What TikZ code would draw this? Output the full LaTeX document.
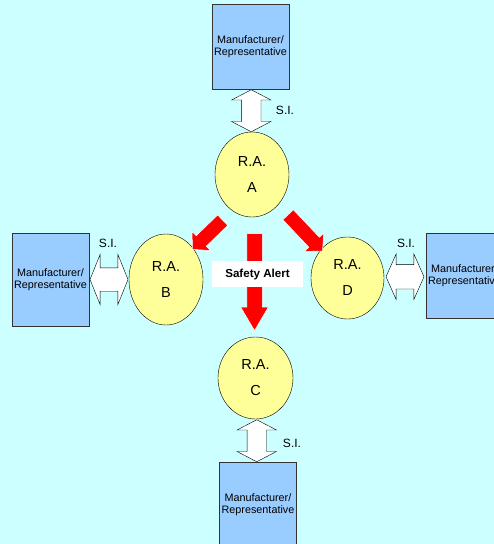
\documentclass[tikz,border=0pt]{standalone}
\usepackage{fontspec}
\setmainfont{Liberation Sans}
\usetikzlibrary{shapes.geometric,shapes.arrows,calc}

\definecolor{bgcyan}{RGB}{204,255,255}
\definecolor{mfrblue}{RGB}{153,204,255}
\definecolor{rayellow}{RGB}{255,255,153}

\begin{document}
\begin{tikzpicture}[x=1pt,y=-1pt,
mfr/.style={draw=black!80, fill=mfrblue, inner sep=0pt, minimum width=77pt, minimum height=85pt, align=center, font=\fontsize{10.8}{12}\selectfont},
ra/.style={ellipse, draw, fill=rayellow, inner sep=0pt, minimum width=74pt, minimum height=84pt, align=center, font=\fontsize{14.5}{26}\selectfont},
si/.style={double arrow, draw, fill=white, inner xsep=0pt, inner ysep=9.5pt, minimum width=0pt, minimum height=42pt, double arrow head extend=10pt, double arrow tip angle=125},
alert/.style={single arrow, fill=red, draw=white, line width=0.5pt, inner xsep=0pt, inner ysep=7pt, minimum width=0pt, single arrow head extend=6pt, single arrow tip angle=95},
silabel/.style={font=\fontsize{12}{14}\selectfont}]
\fill[bgcyan] (0,0) rectangle (494,544);
\useasboundingbox (0,0) rectangle (494,544);
\clip (0,0) rectangle (494,544);

\node[mfr] (m_top) at (250.5,47) {Manufacturer/\\Representative};
\node[mfr, minimum height=93pt] (m_left) at (50.5,279.5) {Manufacturer/\\Representative};
\node[mfr] (m_right) at (464.5,275.5) {Manufacturer/\\Representative};
\node[mfr] (m_bot) at (258,505) {Manufacturer/\\Representative};

\node[ra, minimum height=85pt] (r_a) at (252,174.5) {R.A.\\A};
\node[ra, minimum height=91pt] (r_b) at (166,279.5) {R.A.\\B};
\node[ra, minimum width=75pt, minimum height=82pt] (r_c) at (255.5,378) {R.A.\\C};
\node[ra, minimum width=73pt, minimum height=82pt] (r_d) at (347.5,278) {R.A.\\D};

\node[si, rotate=90] (si_top) at ($(m_top.south)!0.5!(r_a.north)$) {};
\node[si, rotate=90] (si_bot) at ($(r_c.south)!0.5!(m_bot.north)$) {};
\node[si, minimum height=38pt, inner ysep=11.5pt, double arrow head extend=13.5pt, double arrow tip angle=136] (si_left) at ($(m_left.east)!0.5!(r_b.west)$) {};
\node[si, minimum height=38pt, inner ysep=12pt, double arrow head extend=10.5pt, double arrow tip angle=132] (si_right) at ($(r_d.east)!0.5!(m_right.west)$) {};

\node[silabel] (l_top) at (285,110) {S.I.};
\node[silabel] (l_left) at (108,243) {S.I.};
\node[silabel] (l_right) at (406,243) {S.I.};
\node[silabel] (l_bot) at (292,443) {S.I.};

\node[alert, rotate=224, minimum height=42pt] (a_b) at (210,232.5) {};
\node[alert, rotate=-46.6, minimum height=50pt] (a_d) at (303,230.5) {};
\node[alert, rotate=-90, minimum height=97pt, inner ysep=7.5pt, single arrow tip angle=61] (a_c) at (254.5,275.5) {};

\node[fill=white, minimum width=91pt, minimum height=26pt, font=\fontsize{11.6}{14}\selectfont\bfseries] (alert_txt) at (257.5,274) {Safety Alert};
\end{tikzpicture}
\end{document}
